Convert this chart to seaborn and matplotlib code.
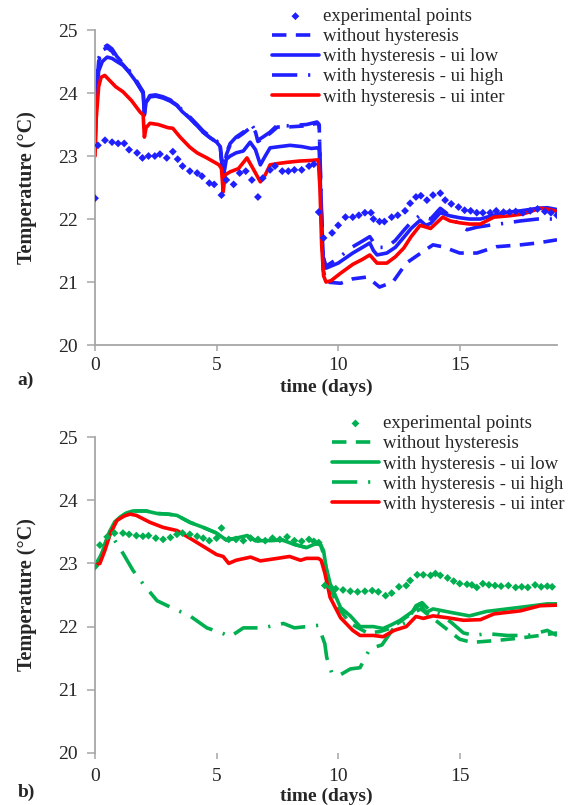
import matplotlib
matplotlib.use("Agg")
import matplotlib.pyplot as plt
import seaborn as sns

# ---- datos panel a) ----
t_a_exp = [0, 0.12, 0.41, 0.7, 0.95, 1.2, 1.4, 1.73, 1.95, 2.2, 2.46, 2.67, 2.95, 3.2, 3.4, 3.6, 3.9, 4.2, 4.4, 4.7,
           4.9, 5.2, 5.4, 5.7, 5.95, 6.2, 6.45, 6.7, 6.9, 7.2, 7.4, 7.7, 7.95, 8.2, 8.5, 8.8, 9.0, 9.2, 9.4, 9.75,
           10.0, 10.3, 10.6, 10.85, 11.1, 11.35, 11.45, 11.7, 11.9, 12.2, 12.45, 12.75, 12.96, 13.2, 13.4, 13.65,
           13.9, 14.2, 14.4, 14.65, 14.95, 15.2, 15.45, 15.7, 15.95, 16.25, 16.5, 16.8, 17.05, 17.3, 17.6, 17.9,
           18.2, 18.5, 18.75, 19.0]
T_a_exp = [22.33, 23.17, 23.25, 23.22, 23.2, 23.2, 23.1, 23.05, 22.97, 23.0, 23.0, 23.03, 22.97, 23.07, 22.95, 22.84,
           22.76, 22.73, 22.68, 22.57, 22.55, 22.38, 22.62, 22.55, 22.73, 22.76, 22.62, 22.35, 22.65, 22.78, 22.84,
           22.76, 22.76, 22.78, 22.78, 22.84, 22.87, 22.11, 21.7, 21.78, 21.9, 22.03, 22.03, 22.06, 22.1, 22.1, 22.0,
           21.96, 21.96, 22.03, 22.06, 22.13, 22.25, 22.35, 22.37, 22.3, 22.38, 22.41, 22.3, 22.24, 22.19, 22.14,
           22.13, 22.1, 22.1, 22.1, 22.13, 22.11, 22.11, 22.12, 22.1, 22.13, 22.16, 22.12, 22.1, 22.06]

t_a_none = [0, 0.05, 0.15, 0.3, 0.5, 0.7, 0.9, 1.15, 1.4, 1.65, 1.85, 1.98, 2.03, 2.1, 2.26, 2.5, 2.8, 3.1, 3.37, 3.6,
            3.9, 4.2, 4.44, 4.7, 5.0, 5.15, 5.27, 5.4, 5.56, 5.8, 6.1, 6.45, 6.6, 6.7, 6.9, 7.2, 7.5, 7.9, 8.3, 8.7,
            9.13, 9.22, 9.3, 9.38, 9.5, 10.1, 10.6, 11.2, 11.7, 12.25, 12.8, 13.4, 13.9, 14.3, 15.0, 15.7, 16.5,
            17.5, 18.2, 19.0]
T_a_none = [23.2, 24.0, 24.5, 24.68, 24.72, 24.66, 24.55, 24.45, 24.34, 24.21, 24.08, 24.0, 23.68, 23.86, 23.95,
            23.96, 23.93, 23.88, 23.81, 23.71, 23.6, 23.48, 23.38, 23.3, 23.22, 23.15, 22.68, 23.02, 23.18, 23.28,
            23.36, 23.47, 23.38, 23.23, 23.28, 23.36, 23.46, 23.46, 23.47, 23.48, 23.52, 23.48, 22.2, 21.2, 21.0,
            20.98, 21.05, 21.08, 20.92, 21.0, 21.3, 21.46, 21.59, 21.56, 21.46, 21.46, 21.56, 21.59, 21.62, 21.67]

t_a_low = [0, 0.05, 0.15, 0.3, 0.5, 0.7, 0.9, 1.15, 1.4, 1.65, 1.85, 1.98, 2.03, 2.1, 2.26, 2.5, 2.8, 3.1, 3.37, 3.6,
           3.9, 4.2, 4.44, 4.7, 5.0, 5.15, 5.27, 5.4, 5.56, 5.8, 6.1, 6.38, 6.6, 6.8, 7.0, 7.2, 7.6, 8.02, 8.5, 8.9,
           9.14, 9.22, 9.3, 9.38, 9.5, 10.0, 10.6, 11.0, 11.3, 11.45, 11.6, 12.0, 12.35, 12.7, 13.0, 13.37, 13.6,
           13.8, 14.2, 14.6, 15.0, 15.4, 15.85, 16.3, 16.8, 17.5, 18.2, 18.6, 19.0]
T_a_low = [23.1, 23.9, 24.35, 24.5, 24.57, 24.55, 24.5, 24.44, 24.33, 24.2, 24.08, 24.0, 23.65, 23.85, 23.94, 23.95,
           23.92, 23.87, 23.8, 23.7, 23.6, 23.48, 23.38, 23.3, 23.22, 23.15, 22.65, 22.95, 23.0, 23.05, 23.08, 23.22,
           23.1, 22.86, 23.0, 23.13, 23.15, 23.17, 23.15, 23.12, 23.13, 23.1, 22.2, 21.4, 21.22, 21.3, 21.46, 21.55,
           21.62, 21.5, 21.43, 21.46, 21.55, 21.71, 21.85, 21.98, 21.9, 21.93, 22.1, 22.05, 22.02, 22.0, 22.0, 22.05,
           22.1, 22.13, 22.17, 22.18, 22.15]

t_a_high = [0, 0.05, 0.15, 0.3, 0.5, 0.7, 0.9, 1.15, 1.4, 1.65, 1.85, 1.98, 2.03, 2.1, 2.26, 2.5, 2.8, 3.1, 3.37, 3.6,
            3.9, 4.2, 4.44, 4.7, 5.0, 5.15, 5.27, 5.4, 5.56, 5.8, 6.1, 6.45, 6.6, 6.7, 6.9, 7.2, 7.5, 7.9, 8.3, 8.7,
            9.13, 9.22, 9.3, 9.38, 9.5, 10.0, 10.6, 11.0, 11.3, 11.6, 12.0, 12.35, 12.7, 13.0, 13.37, 13.8, 14.2,
            14.6, 15.0, 15.3, 15.7, 16.2, 16.8, 17.5, 18.2, 19.0]
T_a_high = [23.2, 24.0, 24.55, 24.7, 24.76, 24.7, 24.58, 24.47, 24.36, 24.23, 24.1, 24.02, 23.7, 23.88, 23.96, 23.97,
            23.94, 23.89, 23.82, 23.72, 23.62, 23.5, 23.4, 23.32, 23.24, 23.17, 22.7, 23.05, 23.2, 23.3, 23.38, 23.49,
            23.4, 23.25, 23.3, 23.38, 23.49, 23.48, 23.49, 23.5, 23.54, 23.5, 22.3, 21.4, 21.25, 21.38, 21.56, 21.65,
            21.72, 21.55, 21.55, 21.66, 21.82, 21.95, 22.06, 22.0, 22.17, 22.05, 21.9, 21.83, 21.87, 21.9, 21.93,
            21.97, 22.0, 22.0]

t_a_inter = [0, 0.05, 0.15, 0.25, 0.4, 0.6, 0.85, 1.15, 1.5, 1.85, 1.98, 2.03, 2.1, 2.26, 2.6, 3.0, 3.2, 3.5, 3.9,
             4.2, 4.6, 5.1, 5.2, 5.27, 5.35, 5.56, 5.9, 6.25, 6.5, 6.8, 7.0, 7.2, 7.5, 7.9, 8.4, 8.9, 9.18, 9.25,
             9.32, 9.4, 9.5, 9.7, 10.1, 10.6, 11.0, 11.3, 11.6, 12.0, 12.35, 12.7, 13.0, 13.37, 13.8, 14.3, 14.6,
             15.0, 15.4, 15.85, 16.4, 17.0, 17.6, 18.3, 18.7, 19.0]
T_a_inter = [23.0, 23.6, 24.1, 24.25, 24.28, 24.2, 24.1, 24.02, 23.88, 23.7, 23.65, 23.3, 23.45, 23.52, 23.5, 23.45,
             23.44, 23.3, 23.14, 23.05, 22.97, 22.86, 22.8, 22.43, 22.7, 22.75, 22.8, 22.97, 22.8, 22.59, 22.7,
             22.86, 22.88, 22.9, 22.92, 22.93, 22.94, 22.5, 21.6, 21.1, 21.0, 21.02, 21.14, 21.28, 21.36, 21.43,
             21.3, 21.3, 21.4, 21.54, 21.72, 21.9, 21.85, 22.03, 21.97, 21.94, 21.92, 21.92, 22.03, 22.05, 22.08,
             22.17, 22.15, 22.12]

# ---- datos panel b) ----
t_b_exp = [0, 0.2, 0.5, 0.8, 1.15, 1.4, 1.7, 1.97, 2.2, 2.5, 2.8, 3.1, 3.37, 3.6, 3.9, 4.2, 4.45, 4.7, 5.0, 5.2, 5.5,
           5.8, 6.1, 6.4, 6.7, 7.0, 7.3, 7.6, 7.9, 8.2, 8.5, 8.8, 9.0, 9.2, 9.45, 9.7, 9.9, 10.2, 10.5, 10.8, 11.1,
           11.4, 11.65, 11.95, 12.2, 12.5, 12.8, 12.96, 13.25, 13.5, 13.8, 14.0, 14.2, 14.5, 14.75, 15.0, 15.3, 15.5,
           15.7, 15.95, 16.2, 16.45, 16.7, 17.0, 17.3, 17.55, 17.8, 18.1, 18.35, 18.6, 18.8]
T_b_exp = [22.95, 23.29, 23.42, 23.48, 23.48, 23.46, 23.44, 23.43, 23.44, 23.4, 23.38, 23.41, 23.46, 23.48, 23.46,
           23.43, 23.4, 23.36, 23.4, 23.56, 23.38, 23.38, 23.36, 23.4, 23.38, 23.36, 23.4, 23.38, 23.42, 23.36,
           23.35, 23.38, 23.35, 23.33, 22.65, 22.62, 22.6, 22.58, 22.56, 22.55, 22.56, 22.57, 22.55, 22.49, 22.53,
           22.63, 22.65, 22.73, 22.82, 22.82, 22.81, 22.84, 22.81, 22.77, 22.72, 22.68, 22.67, 22.66, 22.62, 22.68,
           22.66, 22.65, 22.64, 22.65, 22.62, 22.63, 22.62, 22.66, 22.63, 22.64, 22.63]

t_b_none = [0, 0.2, 0.4, 0.62, 0.8, 1.03, 1.3, 1.56, 2.1, 2.55, 3.0, 3.37, 3.9, 4.45, 5.0, 5.4, 5.8, 6.25, 6.6, 7.0,
            7.7, 8.2, 8.7, 9.0, 9.25, 9.4, 9.6, 10.0, 10.5, 11.2, 11.7, 12.2, 12.8, 13.1, 13.4, 14.0, 14.5, 15.0,
            15.5, 16.5, 17.5, 18.5, 19.0]
T_b_none = [22.97, 23.05, 23.3, 23.52, 23.65, 23.73, 23.8, 23.83, 23.83, 23.79, 23.78, 23.76, 23.65, 23.57, 23.48,
            23.37, 23.4, 23.44, 23.36, 23.36, 23.37, 23.3, 23.25, 23.3, 23.32, 23.15, 22.7, 22.3, 22.05, 21.9, 21.92,
            21.98, 22.15, 22.22, 22.28, 22.1, 21.95, 21.8, 21.75, 21.78, 21.82, 21.87, 21.9]

t_b_low = [0, 0.2, 0.4, 0.62, 0.8, 1.03, 1.3, 1.56, 2.1, 2.55, 3.0, 3.37, 3.9, 4.45, 5.0, 5.4, 5.8, 6.25, 6.6, 7.0,
           7.7, 8.2, 8.7, 9.0, 9.25, 9.4, 9.5, 9.67, 10.1, 10.5, 10.9, 11.45, 11.85, 12.2, 12.55, 13.1, 13.37, 13.6,
           13.9, 14.3, 14.7, 15.4, 16.1, 16.95, 17.8, 18.6, 19.0]
T_b_low = [22.97, 23.05, 23.3, 23.52, 23.65, 23.73, 23.8, 23.83, 23.83, 23.79, 23.78, 23.76, 23.65, 23.57, 23.48,
           23.37, 23.4, 23.44, 23.36, 23.36, 23.37, 23.3, 23.25, 23.3, 23.32, 23.2, 22.95, 22.68, 22.3, 22.17, 22.0,
           22.0, 21.97, 22.03, 22.1, 22.25, 22.36, 22.22, 22.28, 22.25, 22.22, 22.17, 22.24, 22.28, 22.32, 22.36,
           22.36]

t_b_high = [0, 0.2, 0.45, 0.75, 1.15, 1.56, 1.97, 2.55, 3.2, 3.9, 4.6, 5.27, 5.56, 6.1, 6.9, 7.75, 8.2, 9.18, 9.45,
            9.53, 9.75, 10.1, 10.5, 10.9, 11.3, 11.8, 12.27, 12.8, 13.2, 13.45, 13.8, 14.2, 14.7, 15.15, 15.6, 16.1,
            16.95, 17.8, 18.6, 19.0]
T_b_high = [22.97, 23.1, 23.3, 23.4, 23.16, 22.89, 22.68, 22.41, 22.29, 22.17, 21.98, 21.89, 21.84, 21.98, 21.98,
            22.05, 21.98, 22.02, 21.73, 21.51, 21.25, 21.24, 21.33, 21.35, 21.65, 21.71, 21.97, 22.07, 22.33, 22.38,
            22.24, 22.2, 22.05, 21.9, 21.86, 21.89, 21.86, 21.86, 21.94, 21.86]

t_b_inter = [0, 0.2, 0.4, 0.62, 0.9, 1.2, 1.44, 1.7, 2.26, 2.8, 3.37, 3.9, 4.45, 5.0, 5.27, 5.5, 5.8, 6.4, 6.8, 7.5,
             8.0, 8.45, 8.7, 9.18, 9.3, 9.45, 9.67, 10.1, 10.6, 10.9, 11.45, 11.85, 12.3, 12.8, 13.2, 13.5, 13.9,
             14.5, 15.15, 15.85, 16.4, 17.5, 18.3, 19.0]
T_b_inter = [22.97, 23.0, 23.2, 23.46, 23.68, 23.75, 23.78, 23.76, 23.65, 23.57, 23.52, 23.4, 23.27, 23.14, 23.11,
             23.0, 23.05, 23.1, 23.04, 23.08, 23.11, 23.05, 23.08, 23.08, 23.05, 22.85, 22.46, 22.14, 21.94, 21.86,
             21.86, 21.84, 21.94, 22.0, 22.16, 22.13, 22.17, 22.14, 22.1, 22.11, 22.2, 22.25, 22.33, 22.34]

labels = ["experimental points", "without hysteresis", "with hysteresis - ui low",
          "with hysteresis - ui high", "with hysteresis - ui inter"]
y_ticks = [20, 21, 22, 23, 24, 25]
x_ticks = [0, 5, 10, 15]

AZUL = "#1f1fff"
VERDE = "#00b050"
ROJO = "#ff0000"
GRIS = "#a6a6a6"
LW = 2.6
FS = 14
FS_LEG = 13.5

sns.set_theme(style="white")
plt.rcParams["font.family"] = ["Liberation Serif", "DejaVu Serif"]


def dibujar_panel(ax, datos, color, leg_anchor, show_bottom, xpad, xlab_y):
    (te, Te), (tn, Tn), (tl, Tl), (th, Th), (ti, Ti) = datos
    sns.scatterplot(x=te, y=Te, ax=ax, color=color, marker="D", s=16, edgecolor="none",
                    label=labels[0], zorder=5)
    sns.lineplot(x=tn, y=Tn, ax=ax, color=color, lw=LW, linestyle=(0, (4, 2.6)), label=labels[1])
    sns.lineplot(x=tl, y=Tl, ax=ax, color=color, lw=LW, label=labels[2])
    sns.lineplot(x=th, y=Th, ax=ax, color=color, lw=LW, linestyle=(0, (7, 3, 0.6, 3)), label=labels[3])
    sns.lineplot(x=ti, y=Ti, ax=ax, color=ROJO, lw=LW, label=labels[4])

    ax.set_xlim(0, 19)
    ax.set_ylim(20, 25)
    ax.set_yticks(y_ticks)
    ax.set_xticks(x_ticks)
    for s in ["top", "right"]:
        ax.spines[s].set_visible(False)
    ax.spines["left"].set_color(GRIS)
    ax.spines["left"].set_linewidth(1.3)
    ax.spines["bottom"].set_color(GRIS)
    ax.spines["bottom"].set_linewidth(1.3)
    ax.spines["bottom"].set_visible(show_bottom)
    ax.tick_params(axis="y", direction="out", length=5.5, width=1.1, color=GRIS, pad=7,
                   labelsize=FS, left=True)
    ax.tick_params(axis="x", direction="out", length=4.5, width=1.1, color=GRIS, pad=xpad,
                   labelsize=FS, bottom=True)

    ax.set_ylabel("Temperature (°C)", fontsize=FS + 0.5, fontweight="bold", labelpad=15)
    ax.set_xlabel("time (days)", fontsize=FS, fontweight="bold")
    ax.xaxis.set_label_coords(0.5, xlab_y)

    ax.legend(loc="upper left", bbox_to_anchor=leg_anchor, frameon=False, fontsize=FS_LEG,
              handlelength=2.5, handletextpad=0.2, labelspacing=0.16, borderpad=0,
              borderaxespad=0, scatterpoints=1)


fig = plt.figure(figsize=(5.7, 8.05), dpi=100)
ax1 = fig.add_axes([0.1667, 0.5714, 0.8105, 0.3913])
ax2 = fig.add_axes([0.1667, 0.0646, 0.8105, 0.3925])

dibujar_panel(ax1, [(t_a_exp, T_a_exp), (t_a_none, T_a_none), (t_a_low, T_a_low),
                    (t_a_high, T_a_high), (t_a_inter, T_a_inter)],
              AZUL, (0.383, 1.07), True, 4, -0.108)
dibujar_panel(ax2, [(t_b_exp, T_b_exp), (t_b_none, T_b_none), (t_b_low, T_b_low),
                    (t_b_high, T_b_high), (t_b_inter, T_b_inter)],
              VERDE, (0.513, 1.069), False, 6, -0.11)

fig.text(0.044, 0.527, "a)", fontsize=FS, fontweight="bold", ha="center", va="center")
fig.text(0.047, 0.016, "b)", fontsize=FS, fontweight="bold", ha="center", va="center")

fig.savefig("out.png", dpi=100)
